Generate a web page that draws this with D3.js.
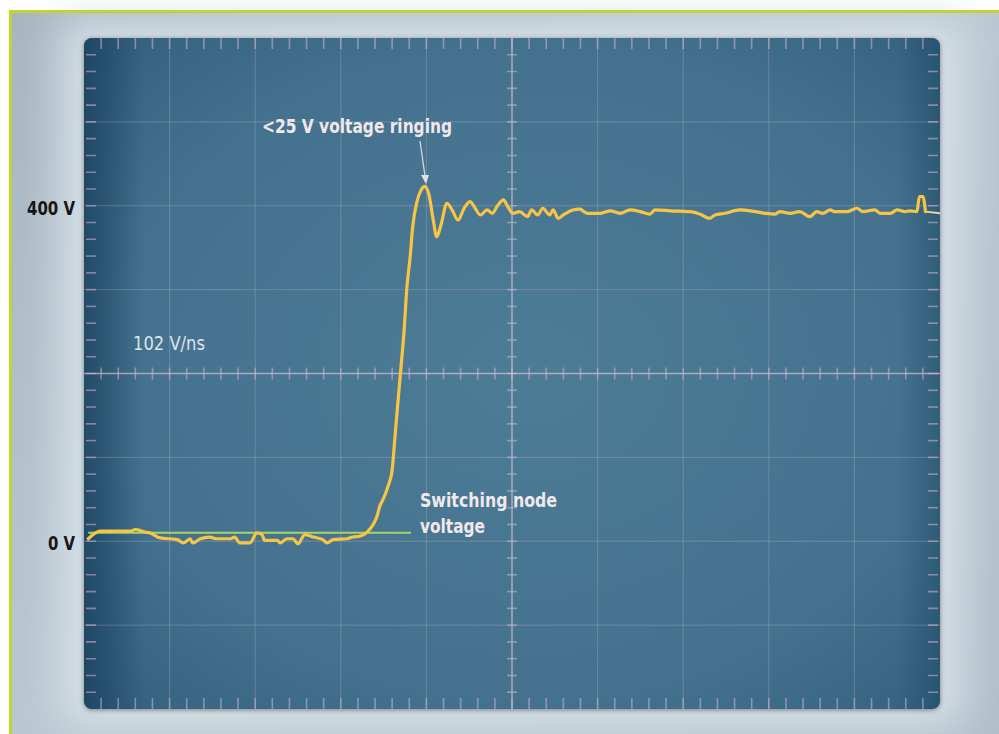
<!DOCTYPE html>
<html>
<head>
<meta charset="utf-8">
<script src="https://cdn.jsdelivr.net/npm/d3@7"></script>
<style>
  html, body { margin: 0; padding: 0; background: #fff; }
  svg { display: block; }
</style>
</head>
<body>
<svg id="scope"></svg>
<script>
// time in screen divisions (10 across), voltage in volts
const traceT = [0.05,0.19,0.36,0.54,0.60,0.71,0.77,0.89,1.09,1.16,1.24,1.27,1.36,1.47,1.55,1.71,1.76,1.82,1.94,2.02,2.08,2.11,2.26,2.29,2.37,2.44,2.50,2.58,2.68,2.79,2.84,2.91,3.07,3.14,3.22,3.31,3.36,3.42,3.46,3.49,3.55,3.60,3.63,3.67,3.70,3.74,3.77,3.81,3.84,3.89,3.94,3.98,4.03,4.08,4.12,4.17,4.24,4.30,4.37,4.44,4.51,4.57,4.63,4.71,4.77,4.83,4.90,4.95,5.01,5.09,5.18,5.23,5.30,5.36,5.44,5.48,5.54,5.60,5.71,5.79,5.88,6.03,6.15,6.26,6.38,6.50,6.61,6.67,6.85,7.08,7.20,7.31,7.37,7.49,7.66,7.84,7.96,8.07,8.13,8.25,8.36,8.48,8.56,8.63,8.72,8.77,8.91,9.03,9.10,9.24,9.30,9.42,9.50,9.59,9.65,9.73,9.76,9.80,9.83]
const traceV = [3,12,12,12,14,11,10,4,2,-2,3,-2,3,5,3,3,5,-2,-2,10,8,1,1,-2,3,3,-3,8,5,2,-2,2,3,5,6,11,17,29,43,49,65,85,121,169,204,252,300,339,375,405,419,423,413,383,363,377,403,395,383,397,405,397,389,395,391,400,407,399,391,393,387,395,389,397,389,395,385,389,395,396,391,391,394,391,395,393,390,395,394,393,390,385,389,391,395,393,391,390,393,391,393,387,393,391,395,393,393,397,393,395,391,391,395,393,394,393,411,411,393]
const tailT = [9.83,10.0]
const tailV = [393,391]
const refLine = {t: [0.05,3.82], v: 10}

const yTickValues = [400, 0]
const yTickLabels = ['400 V', '0 V']

const W = 999, H = 734
const panel = {x: 84, y: 38, w: 856, h: 671}

const svg = d3.select('#scope').attr('width', W).attr('height', H)
const defs = svg.append('defs')

const x = d3.scaleLinear().domain([0, 10]).range([panel.x, panel.x + panel.w])
const y = d3.scaleLinear().domain([-200, 600]).range([panel.y + panel.h, panel.y])

// backdrop
const bg = defs.append('linearGradient').attr('id', 'bg').attr('x1', 0).attr('y1', 0).attr('x2', 1).attr('y2', 1)
bg.append('stop').attr('offset', 0).attr('stop-color', '#a6b5c0')
bg.append('stop').attr('offset', 0.5).attr('stop-color', '#b9c7d0')
bg.append('stop').attr('offset', 1).attr('stop-color', '#b0beC8')

const scr = defs.append('radialGradient').attr('id', 'scr').attr('cx', 0.52).attr('cy', 0.5).attr('r', 0.75)
scr.append('stop').attr('offset', 0).attr('stop-color', '#4d7c97')
scr.append('stop').attr('offset', 0.65).attr('stop-color', '#44728e')
scr.append('stop').attr('offset', 1).attr('stop-color', '#2f5c7a')

// darker band along the left edge of the screen
const edge = defs.append('linearGradient').attr('id', 'edge').attr('x1', 0).attr('y1', 0).attr('x2', 1).attr('y2', 0)
edge.append('stop').attr('offset', 0).attr('stop-color', '#173f5c').attr('stop-opacity', 0.75)
edge.append('stop').attr('offset', 0.07).attr('stop-color', '#173f5c').attr('stop-opacity', 0)
edge.append('stop').attr('offset', 0.95).attr('stop-color', '#173f5c').attr('stop-opacity', 0)
edge.append('stop').attr('offset', 1).attr('stop-color', '#173f5c').attr('stop-opacity', 0.4)

const blur = defs.append('filter').attr('id', 'glow').attr('x', -0.2).attr('y', -0.2).attr('width', 1.4).attr('height', 1.4)
blur.append('feGaussianBlur').attr('stdDeviation', 22)
const shadow = defs.append('filter').attr('id', 'shadow').attr('x', -0.1).attr('y', -0.1).attr('width', 1.2).attr('height', 1.2)
shadow.append('feGaussianBlur').attr('stdDeviation', 2.5)

defs.append('clipPath').attr('id', 'clip')
  .append('rect').attr('x', panel.x).attr('y', panel.y).attr('width', panel.w).attr('height', panel.h).attr('rx', 8)

svg.append('rect').attr('width', W).attr('height', H).attr('fill', '#ffffff')
svg.append('rect').attr('x', 10).attr('y', 11).attr('width', W - 10).attr('height', H - 11).attr('fill', 'url(#bg)')
svg.append('rect')
  .attr('x', panel.x - 25).attr('y', panel.y - 20).attr('width', panel.w + 50).attr('height', panel.h + 40)
  .attr('fill', '#d6e0e7').attr('filter', 'url(#glow)')
// green frame, top and left only
svg.append('rect').attr('x', 9).attr('y', 10).attr('width', W - 9).attr('height', 3).attr('fill', '#c3d52c')
svg.append('rect').attr('x', 9).attr('y', 10).attr('width', 3).attr('height', H - 10).attr('fill', '#c3d52c')

// screen
svg.append('rect')
  .attr('x', panel.x).attr('y', panel.y + 1).attr('width', panel.w).attr('height', panel.h)
  .attr('rx', 8).attr('fill', '#3a3034').attr('opacity', 0.55).attr('filter', 'url(#shadow)')
svg.append('rect')
  .attr('x', panel.x).attr('y', panel.y).attr('width', panel.w).attr('height', panel.h)
  .attr('rx', 8).attr('fill', 'url(#scr)')
svg.append('rect')
  .attr('x', panel.x).attr('y', panel.y).attr('width', panel.w).attr('height', panel.h)
  .attr('rx', 8).attr('fill', 'url(#edge)')

const scope = svg.append('g').attr('clip-path', 'url(#clip)')

const gridColor = 'rgba(220,190,204,0.28)'
const tickColor = 'rgba(215,182,198,0.55)'

// grid
scope.selectAll('.vgrid').data(d3.range(1, 10)).enter().append('line')
  .attr('x1', d => x(d)).attr('x2', d => x(d))
  .attr('y1', panel.y).attr('y2', panel.y + panel.h)
  .attr('stroke', d => d === 5 ? 'rgba(232,210,222,0.6)' : gridColor)
  .attr('stroke-width', d => d === 5 ? 1.5 : 1)
scope.selectAll('.hgrid').data(d3.range(-100, 600, 100)).enter().append('line')
  .attr('y1', d => y(d)).attr('y2', d => y(d))
  .attr('x1', panel.x).attr('x2', panel.x + panel.w)
  .attr('stroke', d => d === 200 ? 'rgba(232,210,222,0.6)' : gridColor)
  .attr('stroke-width', d => d === 200 ? 1.5 : 1)

// minor ticks
const xMinor = d3.range(1, 50).map(i => i / 5)
const yMinor = d3.range(1, 40).map(i => -200 + i * 20)
const tk = scope.append('g').attr('stroke', tickColor).attr('stroke-width', 1.6)
xMinor.forEach(t => {
  tk.append('line').attr('x1', x(t)).attr('x2', x(t)).attr('y1', panel.y).attr('y2', panel.y + 11)
  tk.append('line').attr('x1', x(t)).attr('x2', x(t)).attr('y1', panel.y + panel.h - 11).attr('y2', panel.y + panel.h)
  tk.append('line').attr('x1', x(t)).attr('x2', x(t)).attr('y1', y(200) - 6).attr('y2', y(200) + 6)
})
yMinor.forEach(v => {
  tk.append('line').attr('y1', y(v)).attr('y2', y(v)).attr('x1', panel.x + 2).attr('x2', panel.x + 12)
  tk.append('line').attr('y1', y(v)).attr('y2', y(v)).attr('x1', panel.x + panel.w - 12).attr('x2', panel.x + panel.w - 2)
  tk.append('line').attr('y1', y(v)).attr('y2', y(v)).attr('x1', x(5) - 5).attr('x2', x(5) + 5)
})

// reference level
scope.append('line')
  .attr('x1', x(refLine.t[0])).attr('x2', x(refLine.t[1]))
  .attr('y1', y(refLine.v)).attr('y2', y(refLine.v))
  .attr('stroke', '#a6d46c').attr('stroke-width', 2)

// trace
const line = d3.line().x(d => x(d[0])).y(d => y(d[1])).curve(d3.curveMonotoneX)
scope.append('path')
  .datum(tailT.map((t, i) => [t, tailV[i]]))
  .attr('d', line).attr('fill', 'none').attr('stroke', '#e6d99a').attr('stroke-width', 2)
scope.append('path')
  .datum(traceT.map((t, i) => [t, traceV[i]]))
  .attr('d', line).attr('fill', 'none')
  .attr('stroke', '#f8c444').attr('stroke-width', 3.2)
  .attr('stroke-linejoin', 'round').attr('stroke-linecap', 'round')

// texts
const font = '"Liberation Sans Narrow", "DejaVu Sans Condensed", "Arial Narrow", sans-serif'
const txt = (s, tx, ty, len, opts) => svg.append('text')
  .attr('x', tx).attr('y', ty).text(s)
  .attr('font-family', font).attr('font-size', opts.size)
  .attr('font-weight', opts.weight).attr('fill', opts.fill)
  .attr('textLength', len).attr('lengthAdjust', 'spacingAndGlyphs')

const label = {size: 20, weight: 'bold', fill: '#f1e7ec'}
txt('<25 V voltage ringing', 262, 133, 190, label)
txt('Switching node', 420, 507, 137, label)
txt('voltage', 420, 533, 65, label)
txt('102 V/ns', 133, 350, 72, {size: 20, weight: 'normal', fill: '#dde3ea'})

yTickValues.forEach((v, i) => {
  svg.append('text')
    .attr('x', 75).attr('y', y(v) + 9).text(yTickLabels[i])
    .attr('text-anchor', 'end')
    .attr('font-family', font).attr('font-size', 20).attr('font-weight', 'bold')
    .attr('fill', '#161616')
    .attr('textLength', i === 0 ? 48 : 27).attr('lengthAdjust', 'spacingAndGlyphs')
})

// arrow to the first overshoot
svg.append('line')
  .attr('x1', 420).attr('y1', 141).attr('x2', 425).attr('y2', 176)
  .attr('stroke', '#d9d3da').attr('stroke-width', 1.3)
svg.append('path')
  .attr('d', 'M421,175 L429,175 L426,184 Z')
  .attr('fill', '#e2dbe2')
</script>
</body>
</html>
